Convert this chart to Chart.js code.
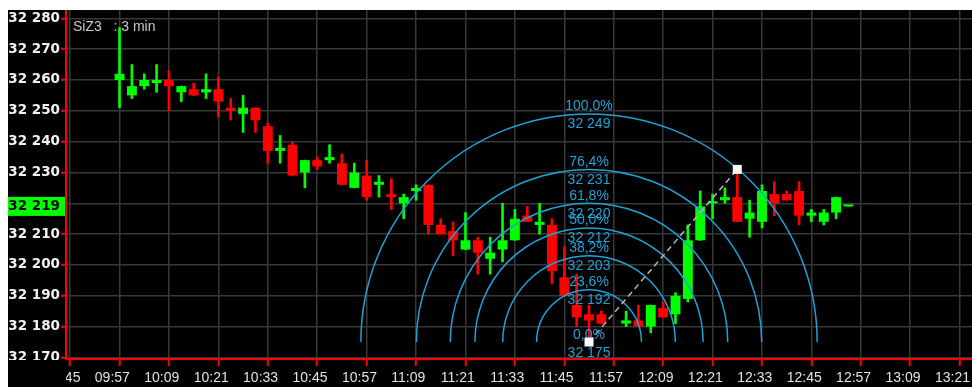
<!DOCTYPE html>
<html>
<head>
<meta charset="utf-8">
<title>SiZ3 3 min</title>
<script src="https://cdn.jsdelivr.net/npm/chart.js@4.4.1/dist/chart.umd.min.js"></script>
<style>
  body { margin: 0; background: #fff; }
  #wrap { position: absolute; left: 8px; top: 10px; width: 964px; height: 377px; background: #000; }
</style>
</head>
<body>
<div id="wrap"><canvas id="chart" width="964" height="377"></canvas></div>
<script>
// Свечи SiZ3, таймфрейм 3 минуты
const times = [
    '10:03', '10:06', '10:09', '10:12', '10:15', '10:18', '10:21', '10:24', '10:27', '10:30',
    '10:33', '10:36', '10:39', '10:42', '10:45', '10:48', '10:51', '10:54', '10:57', '11:00',
    '11:03', '11:06', '11:09', '11:12', '11:15', '11:18', '11:21', '11:24', '11:27', '11:30',
    '11:33', '11:36', '11:39', '11:42', '11:45', '11:48', '11:51', '11:54', '11:57', '12:00',
    '12:06', '12:09', '12:12', '12:15', '12:18', '12:21', '12:24', '12:27', '12:30', '12:33',
    '12:36', '12:39', '12:42', '12:45', '12:48', '12:51', '12:54', '12:57', '13:00'
];
const opens = [
    32260, 32255, 32258, 32259, 32260, 32256, 32257, 32256, 32257, 32251,
    32249, 32251, 32245, 32237, 32239, 32230, 32234, 32234, 32233, 32225,
    32229, 32226, 32223, 32220, 32224, 32226, 32213, 32211, 32205, 32208,
    32202, 32205, 32208, 32216, 32213, 32213, 32196, 32187, 32184, 32184,
    32181, 32182, 32180, 32186, 32184, 32189, 32208, 32220, 32221, 32222,
    32215, 32214, 32223, 32223, 32224, 32216, 32214, 32217, 32219
];
const highs = [
    32277, 32265, 32262, 32265, 32263, 32258, 32259, 32262, 32261, 32254,
    32255, 32251, 32246, 32242, 32240, 32234, 32235, 32239, 32236, 32233,
    32234, 32229, 32228, 32223, 32226, 32226, 32215, 32214, 32217, 32209,
    32209, 32220, 32218, 32219, 32220, 32215, 32206, 32197, 32187, 32185,
    32185, 32187, 32187, 32188, 32191, 32213, 32224, 32223, 32225, 32231,
    32221, 32226, 32227, 32224, 32227, 32218, 32218, 32222, 32219
];
const lows = [
    32251, 32254, 32257, 32256, 32250, 32253, 32255, 32254, 32248, 32247,
    32243, 32243, 32233, 32233, 32229, 32225, 32231, 32233, 32226, 32225,
    32221, 32222, 32218, 32215, 32221, 32210, 32210, 32203, 32205, 32197,
    32197, 32201, 32208, 32214, 32210, 32194, 32190, 32180, 32175, 32181,
    32180, 32180, 32178, 32183, 32181, 32188, 32208, 32215, 32220, 32214,
    32209, 32212, 32216, 32221, 32213, 32214, 32213, 32215, 32219
];
const closes = [
    32262, 32258, 32260, 32260, 32258, 32258, 32255, 32257, 32253, 32250,
    32251, 32247, 32237, 32238, 32229, 32234, 32232, 32235, 32226, 32230,
    32222, 32227, 32222, 32222, 32225, 32213, 32210, 32208, 32208, 32204,
    32204, 32208, 32215, 32214, 32214, 32198, 32190, 32183, 32182, 32181,
    32182, 32180, 32187, 32183, 32190, 32208, 32219, 32220, 32222, 32214,
    32217, 32224, 32220, 32221, 32216, 32217, 32217, 32222, 32219
];

// Подписи оси времени
const xTickLabels = ['09:57', '10:09', '10:21', '10:33', '10:45', '10:57', '11:09', '11:21', '11:33',
    '11:45', '11:57', '12:09', '12:21', '12:33', '12:45', '12:57', '13:09', '13:21'];

// Дуги Фибоначчи: точки привязки и уровни
const fibAnchorTimes = ['11:57', '12:33'];
const fibAnchorPrices = [32175, 32231];
const fibLabels = ['0,0%', '23,6%', '38,2%', '50,0%', '61,8%', '76,4%', '100,0%'];
const fibPrices = [32175, 32192, 32203, 32212, 32220, 32231, 32249];

const lastPrice = 32219;

const GREEN = '#00ff00';
const RED = '#ff0000';
const FIB = '#1ea3d8';

function toMin(s) {
    const [h, m] = s.split(':').map(Number);
    return h * 60 + m;
}

function fmtPrice(v) {
    const s = String(Math.round(v));
    return s.slice(0, s.length - 3) + ' ' + s.slice(-3);
}

const bodies = times.map((t, i) => ({ x: toMin(t), y: [opens[i], closes[i]] }));
const wicks = times.map((t, i) => ({ x: toMin(t), y: [lows[i], highs[i]] }));
const candleColor = c => closes[c.dataIndex] >= opens[c.dataIndex] ? GREEN : RED;

// Дуги, пунктир, маркеры и подписи уровней
const fibPlugin = {
    id: 'fibArcs',
    afterDatasetsDraw(chart) {
        const { ctx, chartArea, scales: { x, y } } = chart;
        const cx = x.getPixelForValue(toMin(fibAnchorTimes[0]));
        const cy = y.getPixelForValue(fibAnchorPrices[0]);
        const px = x.getPixelForValue(toMin(fibAnchorTimes[1]));
        const py = y.getPixelForValue(fibAnchorPrices[1]);

        ctx.save();
        ctx.beginPath();
        ctx.rect(chartArea.left, chartArea.top, chartArea.right - chartArea.left, chartArea.bottom - chartArea.top);
        ctx.clip();

        ctx.strokeStyle = FIB;
        ctx.lineWidth = 1.5;
        fibPrices.forEach(p => {
            const r = cy - y.getPixelForValue(p);
            if (r <= 0) return;
            ctx.beginPath();
            ctx.arc(cx, cy, r, Math.PI, 2 * Math.PI);
            ctx.stroke();
        });

        // линия между точками привязки
        ctx.strokeStyle = '#b4b4b4';
        ctx.setLineDash([6, 4]);
        ctx.beginPath();
        ctx.moveTo(cx, cy);
        ctx.lineTo(px, py);
        ctx.stroke();
        ctx.setLineDash([]);

        ctx.font = '14px "Liberation Sans", Arial, sans-serif';
        ctx.textAlign = 'center';
        ctx.textBaseline = 'alphabetic';
        ctx.fillStyle = FIB;
        fibPrices.forEach((p, i) => {
            const top = y.getPixelForValue(p);
            ctx.fillText(fibLabels[i], cx, top - 3.5);
            ctx.fillText(fmtPrice(p), cx, top + 14.5);
        });

        ctx.fillStyle = '#ffffff';
        [[cx, cy], [px, py]].forEach(([ax, ay]) => ctx.fillRect(ax - 4.5, ay - 4.5, 9, 9));
        ctx.restore();
    },
    afterDraw(chart) {
        const { ctx, chartArea, scales: { x, y } } = chart;
        ctx.save();

        // нижняя подпись шкалы цен уходит под ось времени
        ctx.fillStyle = '#000';
        ctx.fillRect(0, chartArea.bottom + 1, chartArea.left - 1, chart.height - chartArea.bottom);

        // обрезанная слева подпись 09:45
        ctx.save();
        ctx.beginPath();
        ctx.rect(chartArea.left, chartArea.bottom, chartArea.right - chartArea.left, chart.height - chartArea.bottom);
        ctx.clip();
        ctx.font = '14px "Liberation Sans", Arial, sans-serif';
        ctx.fillStyle = '#e2e2e2';
        ctx.textAlign = 'left';
        ctx.textBaseline = 'middle';
        ctx.fillText('09:45', x.getPixelForValue(toMin('09:45')), chartArea.bottom + 7 + 4 + 8.4);
        ctx.restore();

        // плашка текущей цены
        const ly = y.getPixelForValue(lastPrice);
        ctx.fillStyle = GREEN;
        ctx.fillRect(0, ly - 9.5, chartArea.left - 1, 19);
        ctx.fillStyle = '#000';
        ctx.font = 'bold 13.5px "DejaVu Sans", sans-serif';
        ctx.textAlign = 'right';
        ctx.textBaseline = 'middle';
        ctx.fillText(fmtPrice(lastPrice), chartArea.left - 6, ly + 0.5);

        // инструмент и таймфрейм
        ctx.fillStyle = '#c8c8c8';
        ctx.font = '14px "Liberation Sans", Arial, sans-serif';
        ctx.textAlign = 'left';
        ctx.textBaseline = 'alphabetic';
        ctx.fillText('SiZ3   : 3 min', chartArea.left + 7, 20.5);
        ctx.restore();
    }
};

const chart = new Chart(document.getElementById('chart'), {
    type: 'bar',
    data: {
        datasets: [
            {
                label: 'body',
                data: bodies,
                backgroundColor: candleColor,
                barPercentage: 0.8,
                categoryPercentage: 1,
                minBarLength: 2,
                grouped: false
            },
            {
                label: 'wick',
                data: wicks,
                backgroundColor: candleColor,
                barThickness: 2,
                minBarLength: 1,
                grouped: false
            }
        ]
    },
    options: {
        responsive: false,
        animation: false,
        devicePixelRatio: 1,
        layout: { autoPadding: false, padding: 0 },
        plugins: {
            legend: { display: false },
            tooltip: { enabled: false }
        },
        scales: {
            x: {
                type: 'linear',
                min: toMin('09:50'),
                max: toMin('13:30'),
                offset: false,
                afterBuildTicks: axis => {
                    axis.ticks = xTickLabels.map(s => ({ value: toMin(s) }));
                },
                afterFit: axis => {
                    axis.height = 28;
                    axis.paddingLeft = 0;
                    axis.paddingRight = 0;
                },
                ticks: {
                    autoSkip: false,
                    maxRotation: 0,
                    align: 'start',
                    padding: 4,
                    color: '#e2e2e2',
                    font: { family: '"Liberation Sans", Arial, sans-serif', size: 14 },
                    callback: (value, index) => xTickLabels[index]
                },
                grid: { color: '#383838', lineWidth: 1.5, tickColor: RED, tickLength: 7, tickWidth: 2 },
                border: { color: RED, width: 2 }
            },
            y: {
                min: 32169.5,
                max: 32282.7,
                afterFit: axis => {
                    axis.width = 58;
                    axis.paddingTop = 0;
                    axis.paddingBottom = 0;
                },
                ticks: {
                    stepSize: 10,
                    includeBounds: false,
                    autoSkip: false,
                    padding: 1,
                    color: '#f2f2f2',
                    font: { family: '"DejaVu Sans", sans-serif', size: 13.5, weight: 'bold' },
                    callback: v => Math.abs(v - lastPrice) < 5 ? '' : fmtPrice(v)
                },
                grid: { color: '#383838', lineWidth: 1.5, tickColor: RED, tickLength: 5, tickWidth: 2 },
                border: { color: RED, width: 2 }
            }
        }
    },
    plugins: [fibPlugin]
});
</script>
</body>
</html>
